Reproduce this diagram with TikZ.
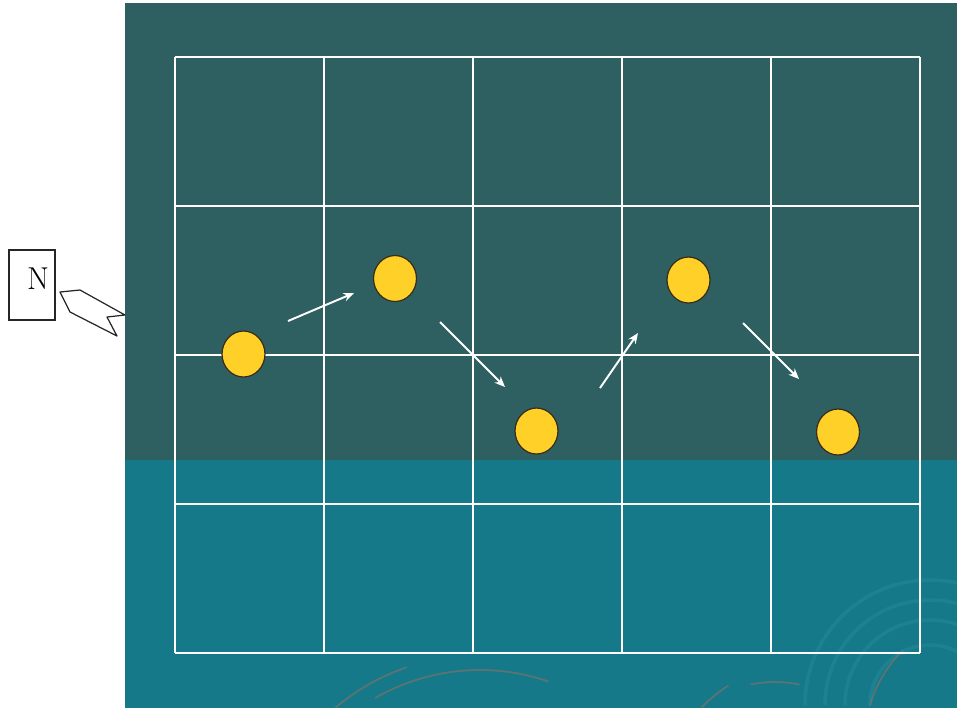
\documentclass[tikz,border=0pt]{standalone}
\usepackage{tikz}
\usetikzlibrary{arrows.meta,positioning,calc,shapes.geometric}
\definecolor{clrT}{RGB}{47,96,97}
\definecolor{clrS}{RGB}{22,121,137}
\definecolor{clrR}{RGB}{45,150,165}
\definecolor{clrY}{RGB}{255,208,40}
\definecolor{clrK}{RGB}{120,115,105}
\definecolor{clrD}{RGB}{55,45,25}
\tikzset{
  ball/.style={ellipse,draw=clrD,fill=clrY,line width=0.7pt,
    minimum width=0.86cm,minimum height=0.92cm,inner sep=0pt},
  gridline/.style={white!85,line width=0.75pt},
  move/.style={-{Stealth[length=6pt,width=5pt]},white!92,line width=1.1pt},
  ripple/.style={clrR,line width=2pt,opacity=0.3},
  groove/.style={clrK,line width=1pt,opacity=0.7},
  nbox/.style={rectangle,draw=black!85,line width=0.7pt,
    minimum width=0.92cm,minimum height=1.4cm,inner sep=0pt},
  pointer/.style={draw=black!85,fill=white,line width=0.7pt,line join=round}
}
\begin{document}
\begin{tikzpicture}[x=0.02cm,y=-0.02cm]
  \useasboundingbox (0,0) rectangle (957,708);
  \def\cw{149}
  \def\gx{175}
  \def\gy{57}
  \fill[clrT] (125,3) rectangle (957,708);
  \fill[clrS] (125,460) rectangle (957,708);
  \begin{scope}
    \clip (125,3) rectangle (957,708);
    \foreach \r in {60,85,105,125}
      \draw[ripple] (930,705) ++(180:\r) arc[start angle=180,end angle=360,radius=\r];
    \draw[groove] (480,880) ++(240:210) arc[start angle=240,end angle=289,radius=210];
    \draw[groove] (480,880) ++(230:225) arc[start angle=230,end angle=251,radius=225];
    \draw[groove] (990,740) ++(196:125) arc[start angle=196,end angle=226,radius=125];
    \draw[groove] (800,800) ++(223:135) arc[start angle=223,end angle=238,radius=135];
    \draw[groove] (775,800) ++(258:118) arc[start angle=258,end angle=282,radius=118];
  \end{scope}
  \foreach \i in {0,...,5}
    \draw[gridline] (\gx+\i*\cw,\gy) -- (\gx+\i*\cw,\gy+4*\cw);
  \foreach \j in {0,...,4}
    \draw[gridline] (\gx,\gy+\j*\cw) -- (\gx+5*\cw,\gy+\j*\cw);
  \node[ball] (ball1) at (243.5,354) {};
  \node[ball] (ball2) at (395,278.5) {};
  \node[ball] (ball3) at (536.5,431) {};
  \node[ball] (ball4) at (688.5,280) {};
  \node[ball] (ball5) at (838,432) {};
  \coordinate (m1s) at (288,321);
  \coordinate (m1e) at (354,293);
  \coordinate (m2s) at (440,322);
  \coordinate (m2e) at (505,387);
  \coordinate (m3s) at (600,388);
  \coordinate (m3e) at (638,333);
  \coordinate (m4s) at (743,323);
  \coordinate (m4e) at (799,379);
  \draw[move] (m1s) -- (m1e);
  \draw[move] (m2s) -- (m2e);
  \draw[move] (m3s) -- (m3e);
  \draw[move] (m4s) -- (m4e);
  \node[nbox] (nbox) at (32,285) {};
  \node[font=\fontsize{18}{20}\selectfont,inner sep=0pt] (nlabel) at (38,279) {N};
  \draw[pointer] (60,292) -- (80,290) -- (125,315) -- (107,317)
    -- (117,336) -- (70,312) -- cycle;
\end{tikzpicture}
\end{document}
